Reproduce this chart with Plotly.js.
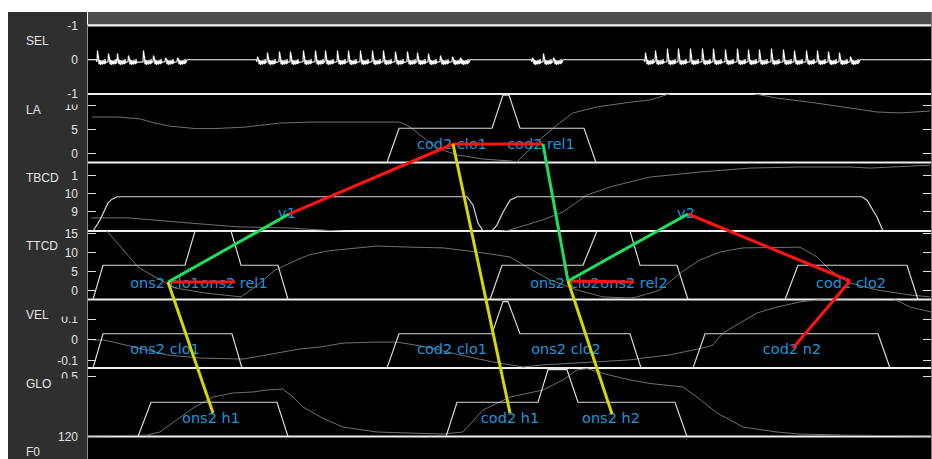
<!DOCTYPE html>
<html>
<head>
<meta charset="utf-8">
<script src="https://cdn.plot.ly/plotly-3.0.1.min.js"></script>
<style>
  html, body { margin: 0; padding: 0; background: #ffffff; }
  #score { width: 932px; height: 459px; }
</style>
</head>
<body>
<div id="score"></div>
<script>
// Gestural score: acoustic signal, tract variables, gesture activations
// and the coupling graph between gestures. Time is in frames.
const T_END = 843;

// ---------- SEL: acoustic waveform (glottal pulse onsets and peak heights)
const selPulseT = [9, 20, 29, 40, 55, 65, 77, 89,
  169, 179, 191, 202, 215, 227, 237, 249, 260, 272, 284, 295, 307, 319, 329, 340, 352, 364, 372,
  444, 455, 465,
  557, 567, 579, 590, 602, 614, 625, 637, 649, 660, 671, 683, 695, 706, 718, 729, 740, 751, 762];
const selPulseA = [-0.27, -0.18, -0.18, -0.12, -0.27, -0.12, -0.06, -0.06,
  -0.09, -0.21, -0.24, -0.24, -0.27, -0.27, -0.27, -0.27, -0.27, -0.27, -0.27, -0.27, -0.24, -0.24, -0.21, -0.18, -0.12, -0.09, -0.06,
  -0.06, -0.18, -0.06,
  -0.21, -0.27, -0.33, -0.33, -0.33, -0.33, -0.33, -0.30, -0.33, -0.30, -0.30, -0.33, -0.30, -0.27, -0.27, -0.27, -0.24, -0.21, -0.09];
// one pulse period: offset in frames, fixed part, part scaled by the pulse peak
const selShapeDt    = [0,    0.5, 1,    1.5, 2,    2.5, 3,    3.5,  4,    4.5,  5,    5.5,  6,   6.5,  7,    7.5,  8,     8.5, 9];
const selShapeBase  = [0.06, 0,   0,    0,   0.13, 0.0, 0.1,  0.15, 0.02, 0.12, 0.05, 0.14, 0.0, 0.11, 0.04, 0.13, -0.02, 0.1, 0.07];
const selShapeScale = [0,    1,   0.55, 0.3, 0,    0,   0,    0,    0,    0,    0,    0,    0,   0,    0,    0,    0,     0,   0];

// ---------- tract variables
const laT = [4, 30, 52, 67, 82, 107, 127, 157, 192, 222, 312, 322, 332, 349, 369, 395, 422, 429, 449, 469, 485, 509, 542, 562, 572, 584, 662, 689, 722, 755, 789, 812, 842];
const laV = [7.6, 7.6, 7.2, 6.35, 5.7, 5.2, 5.2, 5.5, 6.35, 6.55, 6.55, 5.5, 3.85, 1.15, -0.3, -1.15, -1.55, -1.75, 2.4, 5.95, 8.45, 9.7, 10.7, 11.15, 11.8, 12.6, 12.6, 11.55, 10.7, 9.7, 8.65, 8.45, 8.85];

const tbcdT = [3, 40, 100, 150, 200, 232, 262, 350, 405, 422, 455, 475, 499, 522, 542, 562, 612, 662, 712, 762, 782, 842];
const tbcdV = [8.67, 8.67, 8.39, 8.17, 8.11, 8.0, 7.85, 7.6, 7.85, 8.0, 8.56, 9.0, 9.94, 10.39, 10.67, 10.94, 11.22, 11.44, 11.5, 11.5, 11.44, 11.6];

const ttcdT = [3, 18, 33, 50, 67, 87, 117, 153, 167, 187, 213, 222, 240, 255, 289, 322, 355, 389, 422, 439, 462, 489, 515, 542, 549, 572, 592, 612, 632, 655, 712, 729, 742, 762, 789, 822, 842];
const ttcdV = [16.5, 16, 11.5, 6.2, 3.6, 0.66, -0.66, -1.7, 0.93, 5.4, 8.6, 9.5, 10.5, 10.9, 11.8, 11.5, 11.3, 10.2, 8.9, 6.2, 2.8, 0.13, -1.7, -2.0, -1.7, 0.13, 4.6, 8.1, 10.2, 11.3, 11.5, 8.9, 5.4, 2.0, 0.13, -1.2, -1.7];

const velT = [5, 15, 25, 45, 79, 112, 145, 155, 179, 212, 232, 255, 289, 309, 339, 372, 405, 435, 455, 489, 522, 542, 555, 582, 619, 625, 635, 649, 669, 689, 712, 735, 805, 822, 843];
const velV = [0, 0, -0.01, -0.034, -0.072, -0.087, -0.092, -0.092, -0.072, -0.043, -0.034, -0.015, -0.01, -0.01, -0.034, -0.072, -0.106, -0.13, -0.12, -0.111, -0.101, -0.096, -0.087, -0.072, -0.034, -0.024, 0.034, 0.072, 0.13, 0.159, 0.183, 0.197, 0.2, 0.159, 0.135];

const gloT = [0, 59, 72, 92, 105, 125, 145, 165, 179, 195, 205, 215, 224, 235, 255, 289, 322, 355, 375, 395, 422, 455, 475, 489, 499, 522, 542, 562, 595, 609, 629, 655, 689, 712, 755, 843];
const gloV = [0, 0.008, 0.034, 0.16, 0.237, 0.33, 0.364, 0.373, 0.39, 0.398, 0.33, 0.246, 0.2, 0.15, 0.076, 0.034, 0.025, 0.017, 0.034, 0.22, 0.33, 0.39, 0.475, 0.56, 0.57, 0.515, 0.475, 0.445, 0.415, 0.33, 0.195, 0.076, 0.034, 0.017, 0.008, 0];

// F0 track: nothing falls inside the visible strip of this tier
const f0T = [];
const f0V = [];

// ---------- gesture activations (0 = off, 1 = one gesture, 2 = two overlapping)
const laActT = [299, 311, 404, 415, 421, 432, 496, 508];
const laActA = [0, 1, 1, 1.97, 1.97, 1, 1, 0];
const tbcdActT = [5, 12, 20, 24, 29, 379, 385, 390, 395, null, 404, 409, 415, 422, 429, 774, 779, 789, 795];
const tbcdActA = [0, 0.32, 0.82, 0.93, 1, 1, 0.76, 0.23, 0, null, 0, 0.18, 0.55, 0.9, 1, 1, 0.9, 0.41, 0];
const ttcdActT = [5, 15, 97, 107, 143, 153, 190, 200, null, 402, 414, 495, 509, 542, 552, 589, 600, null, 697, 710, 819, 830];
const ttcdActA = [0, 1, 1, 2, 2, 1, 1, 0, null, 0, 1, 1, 2, 2, 1, 1, 0, null, 0, 1, 1, 0];
const velActT = [5, 15, 144, 154, null, 299, 311, 404, 415, 420, 432, 542, 553, null, 605, 617, 790, 802];
const velActA = [0, 1, 1, 0, null, 0, 1, 1, 1.94, 1.94, 1, 1, 0, null, 0, 1, 1, 0];
const gloActT = [50, 63, 189, 200, null, 358, 369, 450, 460, 479, 490, 587, 599];
const gloActA = [0, 1, 1, 0, null, 0, 1, 1, 1.95, 1.95, 1, 1, 0];

// ---------- tiers, tick labels
const tierNames = ['SEL', 'LA', 'TBCD', 'TTCD', 'VEL', 'GLO', 'F0'];
const tierRanges = [[1, -1], [-1.875, 12.4], [7.94, 11.75], [-2.39, 15.78], [-0.135, 0.195], [-0.004, 0.576], [113.4, 120.05]];
const tierTickVals = [[-1, 0, 1], [0, 5, 10], [9, 10, 11], [0, 5, 10, 15], [-0.1, 0, 0.1], [0.5], [120]];
const tierTickText = [['-1', '0', '-1'], ['0', '5', '10'], ['9', '10', '1'], ['0', '5', '10', '15'], ['-0.1', '0', '0.1'], ['0.5'], ['120']];

// ---------- gesture labels: text, tier index, time, height within the tier
const gestLabel = ['ons2 clo1', 'ons2 rel1', 'ons2 clo2', 'ons2 rel2', 'cod2 clo2',
  'cod2 clo1', 'cod2 rel1', 'v1', 'v2',
  'ons2 clo1', 'cod2 clo1', 'ons2 clo2', 'cod2 n2',
  'ons2 h1', 'cod2 h1', 'ons2 h2'];
const gestTier = [3, 3, 3, 3, 3, 1, 1, 2, 2, 4, 4, 4, 4, 5, 5, 5];
const gestT = [77, 146, 477, 546, 763, 364, 453, 199, 598, 77, 364, 478, 704, 123, 422, 523];
const gestFrac = [0.774, 0.774, 0.774, 0.774, 0.774, 0.752, 0.752, 0.752, 0.752, 0.737, 0.737, 0.737, 0.737, 0.745, 0.745, 0.745];

// ---------- coupling graph nodes and edges
const nodeId = ['ons2 clo1', 'ons2 rel1', 'v1', 'cod2 clo1', 'cod2 rel1', 'ons2 clo2', 'ons2 rel2', 'v2', 'cod2 clo2', 'cod2 n2', 'ons2 h1', 'cod2 h1', 'ons2 h2'];
const nodeTier = [3, 3, 2, 1, 1, 3, 3, 2, 3, 4, 5, 5, 5];
const nodeT = [80, 147, 201, 365, 455, 480, 546, 600, 762, 705, 125, 422, 524];
const nodeFrac = [0.745, 0.745, 0.752, 0.73, 0.73, 0.73, 0.745, 0.752, 0.73, 0.708, 0.657, 0.657, 0.672];
const edgeFrom = ['ons2 clo1', 'v1', 'cod2 clo1', 'ons2 clo2', 'v2', 'cod2 clo2', 'ons2 clo1', 'cod2 rel1', 'ons2 clo2', 'ons2 clo1', 'cod2 clo1', 'ons2 clo2'];
const edgeTo = ['ons2 rel1', 'cod2 clo1', 'cod2 rel1', 'ons2 rel2', 'cod2 clo2', 'cod2 n2', 'v1', 'ons2 clo2', 'v2', 'ons2 h1', 'cod2 h1', 'ons2 h2'];
const edgeKind = ['red', 'red', 'red', 'red', 'red', 'red', 'green', 'green', 'green', 'yellow', 'yellow', 'yellow'];
const edgeColors = { red: '#ff1414', green: '#1ee060', yellow: '#d6d600' };

// ---------- page geometry
const W = 932, H = 459, ML = 88, MR = 1, MT = 25, MB = 0;
const PW = W - ML - MR, PH = H - MT - MB;
const TIER_H = 68.5, TIER_TOP = 25.5;
const fx = px => (px - ML) / PW;
const fy = py => (H - MB - py) / PH;
const tierTop = i => TIER_TOP + i * TIER_H;

const GRAY = '#707070', ACT = '#d8d8d8', LABEL = '#e4e4e4';
const tickFont = { family: 'Liberation Sans, Arial, sans-serif', size: 12, color: LABEL };

const layout = {
  width: W, height: H, autosize: false,
  margin: { l: ML, r: MR, t: MT, b: MB, pad: 0 },
  paper_bgcolor: '#ffffff', plot_bgcolor: 'rgba(0,0,0,0)',
  showlegend: false,
  xaxis: { domain: [0, 1], range: [0, T_END], visible: false, fixedrange: true },
  shapes: [], annotations: []
};

// tier axes (y .. y7)
tierNames.forEach((name, i) => {
  const key = i === 0 ? 'yaxis' : 'yaxis' + (i + 1);
  layout[key] = {
    anchor: 'x',
    domain: [Math.max(0, fy(tierTop(i + 1))), Math.min(1, fy(tierTop(i)))],
    range: tierRanges[i], autorange: false,
    showgrid: false, zeroline: false, showline: false,
    ticks: 'inside', ticklen: 8, tickwidth: 1, tickcolor: '#e0e0e0', mirror: 'ticks',
    tickmode: 'array', tickvals: tierTickVals[i], ticktext: tierTickText[i],
    tickfont: tickFont, ticklabelstandoff: 9, fixedrange: true
  };
  layout.annotations.push({
    xref: 'paper', yref: 'paper', x: fx(24), y: fy(tierTop(i) + 15.5),
    xanchor: 'left', yanchor: 'middle', showarrow: false, text: name,
    font: { family: 'Liberation Sans, Arial, sans-serif', size: 12, color: LABEL }
  });
});

// activation axes overlaying LA .. GLO (y8 .. y12)
const actAxis = { 2: 'y8', 3: 'y9', 4: 'y10', 5: 'y11', 6: 'y12' };
Object.keys(actAxis).forEach(base => {
  layout['yaxis' + actAxis[base].slice(1)] = {
    anchor: 'x', overlaying: 'y' + base, range: [0, 2], autorange: false,
    visible: false, fixedrange: true
  };
});

// coupling-graph axis covering every tier: one unit per tier, counted from the top
layout.yaxis13 = {
  anchor: 'x', domain: [0, 1],
  range: [(H - MB - TIER_TOP) / TIER_H, (MT - TIER_TOP) / TIER_H], autorange: false,
  visible: false, fixedrange: true
};

// frame: black score area, grey title strip, dark label column, tier separators
const S = layout.shapes;
S.push({ type: 'rect', xref: 'paper', yref: 'paper', x0: 0, x1: 1, y0: 0, y1: 1, fillcolor: '#000000', line: { width: 0 }, layer: 'below' });
S.push({ type: 'rect', xref: 'paper', yref: 'paper', x0: fx(8), x1: fx(87), y0: 0, y1: fy(12), fillcolor: '#2f2f2f', line: { width: 0 }, layer: 'below' });
S.push({ type: 'rect', xref: 'paper', yref: 'paper', x0: 0, x1: fx(W), y0: fy(24.5), y1: fy(12), fillcolor: '#4d4d4d', line: { width: 0 }, layer: 'below' });
S.push({ type: 'line', xref: 'paper', yref: 'paper', x0: fx(87.5), x1: fx(87.5), y0: 0, y1: fy(24.5), line: { color: '#8c8c8c', width: 1 }, layer: 'below' });
S.push({ type: 'line', xref: 'paper', yref: 'paper', x0: fx(931.5), x1: fx(931.5), y0: 0, y1: fy(12), line: { color: '#7a7a7a', width: 1 }, layer: 'below' });
for (let i = 0; i < tierNames.length; i++) {
  const y = fy(tierTop(i));
  S.push({ type: 'line', xref: 'paper', yref: 'paper', x0: 0, x1: 1, y0: y, y1: y, line: { color: '#f0f0f0', width: 2 }, layer: 'below' });
}
// tick labels partly hidden by their neighbours
[[99, 104.5], [312, 316.5], [378.5, 384]].forEach(([a, b]) => {
  S.push({ type: 'rect', xref: 'paper', yref: 'paper', x0: fx(52), x1: fx(86.5), y0: fy(b), y1: fy(a), fillcolor: '#2f2f2f', line: { width: 0 }, layer: 'above' });
});

// ---------- traces
const traces = [];

// SEL waveform built pulse by pulse
const selX = [0], selY = [0];
for (let i = 0; i < selPulseT.length; i++) {
  const p = selPulseT[i], a = selPulseA[i];
  const first = i === 0 || p - selPulseT[i - 1] > 16;
  const last = i === selPulseT.length - 1 || selPulseT[i + 1] - p > 16;
  if (first) { selX.push(p - 1); selY.push(0); }
  for (let k = 0; k < selShapeDt.length; k++) {
    selX.push(p + selShapeDt[k]);
    selY.push(selShapeBase[k] + selShapeScale[k] * a);
  }
  if (last) { selX.push(p + 10); selY.push(0); }
}
selX.push(T_END); selY.push(0);
traces.push({ type: 'scatter', mode: 'lines', x: selX, y: selY, xaxis: 'x', yaxis: 'y',
  line: { color: '#ffffff', width: 1.2 }, hoverinfo: 'skip' });

// tract-variable trajectories
[[laT, laV, 'y2'], [tbcdT, tbcdV, 'y3'], [ttcdT, ttcdV, 'y4'], [velT, velV, 'y5'], [gloT, gloV, 'y6'], [f0T, f0V, 'y7']]
  .forEach(([t, v, ax]) => traces.push({ type: 'scatter', mode: 'lines', x: t, y: v, xaxis: 'x', yaxis: ax,
    line: { color: GRAY, width: 1 }, hoverinfo: 'skip' }));

// activation envelopes
[[laActT, laActA, 'y8'], [tbcdActT, tbcdActA, 'y9'], [ttcdActT, ttcdActA, 'y10'], [velActT, velActA, 'y11'], [gloActT, gloActA, 'y12']]
  .forEach(([t, a, ax]) => traces.push({ type: 'scatter', mode: 'lines', x: t, y: a, xaxis: 'x', yaxis: ax,
    connectgaps: false, line: { color: ACT, width: 1.2 }, hoverinfo: 'skip' }));

// gesture names
traces.push({ type: 'scatter', mode: 'text', x: gestT, y: gestTier.map((t, i) => t + gestFrac[i]),
  text: gestLabel, textposition: 'middle center', xaxis: 'x', yaxis: 'y13', cliponaxis: false,
  textfont: { family: 'DejaVu Sans, sans-serif', size: 14.5, color: '#1e96dc' }, hoverinfo: 'skip' });

// coupling edges, grouped by colour
const nodeIndex = {};
nodeId.forEach((n, i) => { nodeIndex[n] = i; });
Object.keys(edgeColors).forEach(kind => {
  const xs = [], ys = [];
  edgeKind.forEach((k, e) => {
    if (k !== kind) return;
    const a = nodeIndex[edgeFrom[e]], b = nodeIndex[edgeTo[e]];
    xs.push(nodeT[a], nodeT[b], null);
    ys.push(nodeTier[a] + nodeFrac[a], nodeTier[b] + nodeFrac[b], null);
  });
  traces.push({ type: 'scatter', mode: 'lines', x: xs, y: ys, xaxis: 'x', yaxis: 'y13',
    connectgaps: false, line: { color: edgeColors[kind], width: 3 }, hoverinfo: 'skip' });
});

Plotly.newPlot('score', traces, layout, { staticPlot: true, displayModeBar: false });
</script>
</body>
</html>
